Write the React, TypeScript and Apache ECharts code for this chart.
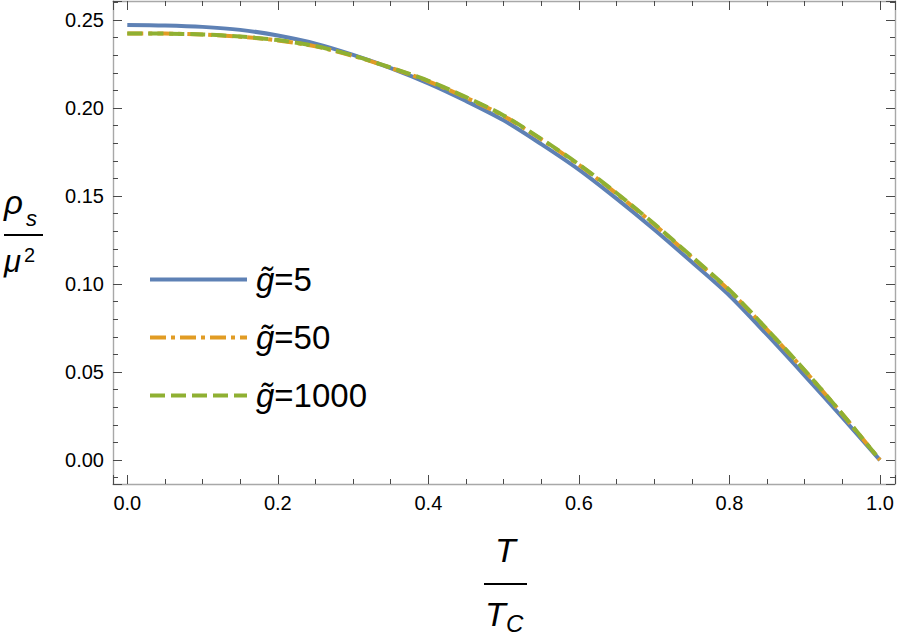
import React, { useEffect, useRef } from "react";
import * as echarts from "echarts";

const tValues = [0, 0.05, 0.1, 0.15, 0.2, 0.25, 0.3, 0.35, 0.4, 0.45, 0.5, 0.55, 0.6, 0.65, 0.7, 0.75, 0.8, 0.85, 0.9, 0.95, 1.0];
const g5 = [0.2472, 0.2469, 0.2461, 0.2444, 0.2412, 0.2366, 0.2302, 0.2227, 0.214, 0.204, 0.193, 0.1795, 0.165, 0.1485, 0.131, 0.1125, 0.0935, 0.0712, 0.048, 0.0242, 0];
const g50 = [0.2424, 0.2423, 0.2417, 0.2405, 0.2384, 0.235, 0.2296, 0.2228, 0.2152, 0.2059, 0.1955, 0.1822, 0.1677, 0.1514, 0.1339, 0.1153, 0.0963, 0.0741, 0.0508, 0.0261, 0];
const g1000 = [0.2424, 0.2423, 0.2418, 0.2406, 0.2386, 0.2352, 0.2298, 0.223, 0.2155, 0.2062, 0.1958, 0.1825, 0.168, 0.1517, 0.1342, 0.1156, 0.0966, 0.0743, 0.051, 0.0262, 0];
const seriesNames = ["g5", "g50", "g1000"];
const legendLabels = ["5", "50", "1000"];
const colors = ["#5E81B5", "#E19C24", "#8FB032"];

const FONT = "'Liberation Sans', Arial, sans-serif";
const X_MIN = -0.019, X_MAX = 1.02;
const Y_MIN = -0.0136, Y_MAX = 0.2608;

export default function App() {
  const ref = useRef<HTMLDivElement>(null);
  useEffect(() => {
    if (!ref.current) return;
    const chart = echarts.init(ref.current, undefined, { renderer: "svg" });
    const pairs = (ys: number[]) => tValues.map((t, i) => [t, ys[i]]);
    const axisLine = { show: true, onZero: false, lineStyle: { color: "#a8a8a8", width: 1.4 } };
    const tickStyle = { color: "#4a4a4a", width: 1 };
    const fmt2 = (v: number) => {
      const r = Math.round(v / 0.05) * 0.05;
      return Math.abs(r - v) < 1e-6 ? v.toFixed(2) : "";
    };
    const fmt1 = (v: number) => {
      const r = Math.round(v / 0.2) * 0.2;
      return Math.abs(r - v) < 1e-6 ? v.toFixed(1) : "";
    };
    const xBase = (pos: string, showLabel: boolean) => ({
      type: "value",
      position: pos,
      min: X_MIN,
      max: X_MAX,
      splitNumber: 5,
      minInterval: 0.2,
      maxInterval: 0.2,
      axisLine,
      axisTick: { show: true, inside: true, length: 9, lineStyle: tickStyle },
      minorTick: { show: true, splitNumber: 4, length: 5, lineStyle: tickStyle },
      splitLine: { show: false },
      axisLabel: {
        show: showLabel,
        showMinLabel: false,
        showMaxLabel: false,
        formatter: fmt1,
        fontFamily: FONT,
        fontSize: 20,
        color: "#000",
        margin: 9,
      },
    });
    const yBase = (pos: string, showLabel: boolean) => ({
      type: "value",
      position: pos,
      min: Y_MIN,
      max: Y_MAX,
      splitNumber: 5,
      minInterval: 0.05,
      maxInterval: 0.05,
      axisLine,
      axisTick: { show: true, inside: true, length: 9, lineStyle: tickStyle },
      minorTick: { show: true, splitNumber: 5, length: 5, lineStyle: tickStyle },
      splitLine: { show: false },
      axisLabel: {
        show: showLabel,
        showMinLabel: false,
        showMaxLabel: false,
        formatter: fmt2,
        fontFamily: FONT,
        fontSize: 20,
        color: "#000",
        margin: 9,
      },
    });
    const lineTypes: any[] = ["solid", [16, 5, 4, 5], [15, 6]];
    const datas = [g5, g50, g1000];
    chart.setOption({
      animation: false,
      grid: { left: 113, top: 1, width: 782, height: 483, containLabel: false },
      xAxis: [xBase("bottom", true), xBase("top", false)],
      yAxis: [yBase("left", true), yBase("right", false)],
      legend: {
        orient: "vertical",
        left: 143,
        top: 258,
        itemWidth: 97,
        itemHeight: 30,
        itemGap: 25,
        data: seriesNames,
        itemStyle: { color: "transparent", borderWidth: 0, opacity: 0 },
        lineStyle: { width: 4 },
        formatter: (name: string) => {
          const i = seriesNames.indexOf(name);
          return "{i|g\u0303}={n|" + legendLabels[i] + "}";
        },
        textStyle: {
          fontFamily: FONT,
          fontSize: 33,
          color: "#000",
          padding: [0, 0, 0, 4],
          lineHeight: 30,
          rich: {
            i: { fontFamily: FONT, fontSize: 33, fontStyle: "italic", color: "#000" },
            n: { fontFamily: FONT, fontSize: 33, color: "#000" },
          },
        },
      },
      series: datas.map((d, i) => ({
        name: seriesNames[i],
        type: "line",
        xAxisIndex: 0,
        yAxisIndex: 0,
        data: pairs(d),
        smooth: 0.3,
        symbol: "none",
        showSymbol: false,
        lineStyle: { color: colors[i], width: 4, type: lineTypes[i] },
        itemStyle: { color: colors[i] },
        z: 2 + i,
      })),
      graphic: [
        { type: "text", left: 4, top: 186, style: { text: "\u03C1", font: `italic 33px ${FONT}`, fill: "#000" } },
        { type: "text", left: 26, top: 207, style: { text: "s", font: `italic 22px ${FONT}`, fill: "#000" } },
        { type: "line", shape: { x1: 4, y1: 235, x2: 43, y2: 235 }, style: { stroke: "#000", lineWidth: 2 } },
        { type: "text", left: 4, top: 246, style: { text: "\u03BC", font: `italic 31px ${FONT}`, fill: "#000" } },
        { type: "text", left: 24, top: 245, style: { text: "2", font: `20px ${FONT}`, fill: "#000" } },
        { type: "text", left: 495, top: 533, style: { text: "T", font: `italic 34px ${FONT}`, fill: "#000" } },
        { type: "line", shape: { x1: 484, y1: 584, x2: 527, y2: 584 }, style: { stroke: "#000", lineWidth: 2 } },
        { type: "text", left: 485, top: 597, style: { text: "T", font: `italic 34px ${FONT}`, fill: "#000" } },
        { type: "text", left: 506, top: 611, style: { text: "C", font: `italic 24px ${FONT}`, fill: "#000" } },
      ],
    });
    return () => chart.dispose();
  }, []);
  return <div ref={ref} style={{ position: "fixed", left: 0, top: 0, width: 899, height: 640, background: "#fff" }} />;
}
